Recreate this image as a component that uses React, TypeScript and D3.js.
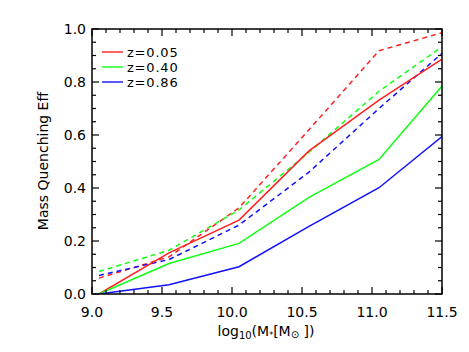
import React, { useRef, useEffect } from 'react';
import * as d3 from 'd3';

// stellar mass bins (log10 M*)
const massBins = [9.05, 9.55, 10.05, 10.55, 11.05, 11.5];

// solid lines
const effZ005 = [0.0, 0.155, 0.279, 0.54, 0.732, 0.886];
const effZ040 = [0.0, 0.115, 0.191, 0.365, 0.508, 0.785];
const effZ086 = [0.0, 0.035, 0.103, 0.255, 0.401, 0.594];

// dashed lines
const effZ005Dash = [0.06, 0.14, 0.325, 0.62, 0.918, 0.986];
const effZ040Dash = [0.085, 0.165, 0.317, 0.535, 0.765, 0.933];
const effZ086Dash = [0.07, 0.13, 0.26, 0.46, 0.7, 0.908];

const legendLabels = ['z=0.05', 'z=0.40', 'z=0.86'];
const xTicks = [9.0, 9.5, 10.0, 10.5, 11.0, 11.5];
const yTicks = [0.0, 0.2, 0.4, 0.6, 0.8, 1.0];

const RED = '#ff2020';
const GREEN = '#10ff10';
const BLUE = '#1010ff';

const App = () => {
    const chartRef = useRef<SVGSVGElement>(null);

    useEffect(() => {
        const width = 469, height = 352;
        const left = 92, right = 442, top = 29, bottom = 294;
        const font = '"DejaVu Sans", sans-serif';

        const svg = d3.select(chartRef.current);
        svg.selectAll('*').remove();
        svg.attr('width', width).attr('height', height)
            .style('background-color', 'white');

        const x = d3.scaleLinear().domain([9.0, 11.5]).range([left, right]);
        const y = d3.scaleLinear().domain([0, 1]).range([bottom, top]);

        svg.append('clipPath').attr('id', 'plotclip')
            .append('rect')
            .attr('x', left).attr('y', top)
            .attr('width', right - left).attr('height', bottom - top);

        const line = d3.line<number>()
            .x((d, i) => x(massBins[i]))
            .y(d => y(d));

        const series = [
            { v: effZ005Dash, c: RED, dash: true },
            { v: effZ040Dash, c: GREEN, dash: true },
            { v: effZ086Dash, c: BLUE, dash: true },
            { v: effZ005, c: RED, dash: false },
            { v: effZ040, c: GREEN, dash: false },
            { v: effZ086, c: BLUE, dash: false },
        ];

        const plot = svg.append('g').attr('clip-path', 'url(#plotclip)');
        series.forEach(s => {
            plot.append('path')
                .datum(s.v)
                .attr('d', line)
                .attr('fill', 'none')
                .attr('stroke', s.c)
                .attr('stroke-width', 1.5)
                .attr('stroke-dasharray', s.dash ? '5,4' : null);
        });

        // frame
        svg.append('rect')
            .attr('x', left).attr('y', top)
            .attr('width', right - left).attr('height', bottom - top)
            .attr('fill', 'none').attr('stroke', 'black').attr('stroke-width', 1.5);

        // ticks, pointing inward on all four sides
        const ticks = svg.append('g').attr('stroke', 'black').attr('stroke-width', 1.2);
        d3.range(90, 116).map(d => d / 10).forEach(v => {
            const major = Math.abs(v * 2 - Math.round(v * 2)) < 1e-6;
            const len = major ? 7 : 4;
            ticks.append('line').attr('x1', x(v)).attr('x2', x(v))
                .attr('y1', bottom).attr('y2', bottom - len);
            ticks.append('line').attr('x1', x(v)).attr('x2', x(v))
                .attr('y1', top).attr('y2', top + len);
        });
        d3.range(0, 21).map(d => d / 20).forEach(v => {
            const major = Math.abs(v * 5 - Math.round(v * 5)) < 1e-6;
            const len = major ? 7 : 4;
            ticks.append('line').attr('y1', y(v)).attr('y2', y(v))
                .attr('x1', left).attr('x2', left + len);
            ticks.append('line').attr('y1', y(v)).attr('y2', y(v))
                .attr('x1', right).attr('x2', right - len);
        });

        // tick labels
        svg.append('g').selectAll('text')
            .data(xTicks).join('text')
            .attr('x', d => x(d)).attr('y', 317)
            .attr('text-anchor', 'middle')
            .style('font-family', font).style('font-size', '14px')
            .text(d => d.toFixed(1));

        svg.append('g').selectAll('text')
            .data(yTicks).join('text')
            .attr('x', 86).attr('y', d => y(d) + 5)
            .attr('text-anchor', 'end')
            .style('font-family', font).style('font-size', '14px')
            .text(d => d.toFixed(1));

        // axis titles
        const xt = svg.append('text')
            .attr('x', 266).attr('y', 336)
            .attr('text-anchor', 'middle')
            .style('font-family', font).style('font-size', '14px');
        xt.append('tspan').text('log');
        xt.append('tspan').attr('dy', 3).style('font-size', '10px').text('10');
        xt.append('tspan').attr('dy', -3).text('(M');
        xt.append('tspan').attr('dy', 2).style('font-size', '8px').text('*');
        xt.append('tspan').attr('dy', -2).text('[M');
        xt.append('tspan').attr('dy', 2).style('font-size', '10px').text('\u2299');
        xt.append('tspan').attr('dy', -2).text(' ])');

        svg.append('text')
            .attr('transform', 'translate(48,161) rotate(-90)')
            .attr('text-anchor', 'middle')
            .style('font-family', font).style('font-size', '14px')
            .text('Mass Quenching Eff');

        // legend
        const legend = svg.append('g');
        [RED, GREEN, BLUE].forEach((c, i) => {
            const ly = 52 + i * 15;
            legend.append('line')
                .attr('x1', 102).attr('x2', 123)
                .attr('y1', ly).attr('y2', ly)
                .attr('stroke', c).attr('stroke-width', 1.4);
            legend.append('text')
                .attr('x', 127).attr('y', ly + 5)
                .style('font-family', font).style('font-size', '13px')
                .style('letter-spacing', '0.8px')
                .text(legendLabels[i]);
        });
    }, []);

    return (
        <svg ref={chartRef} style={{ position: 'absolute', left: 0, top: 0 }}></svg>
    );
};

export default App;
